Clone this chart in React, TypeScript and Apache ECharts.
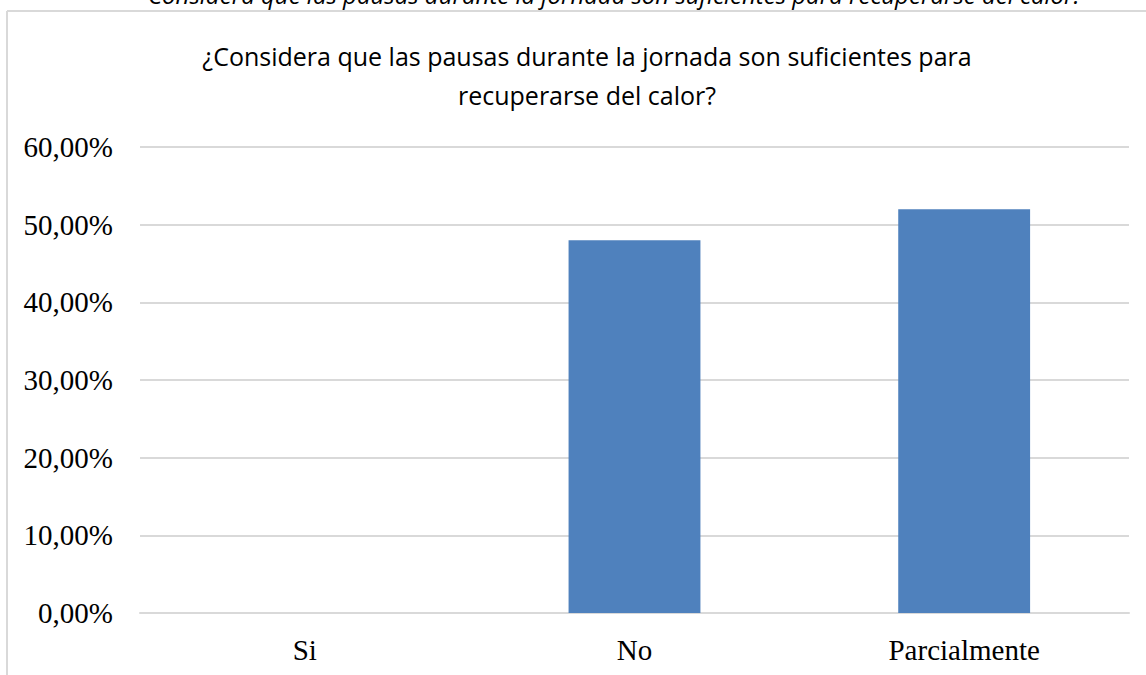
import React, { useEffect, useRef } from "react";
import * as echarts from "echarts";

const categories = ["Si", "No", "Parcialmente"];
const values = [0, 48, 52];
const yTicks = { min: 0, max: 60, interval: 10 };
const titleLines = [
  "¿Considera que las pausas durante la jornada son suficientes para",
  "recuperarse del calor?",
];
const captionText =
  "Considera que las pausas durante la jornada son suficientes para recuperarse del calor.";

const SANS = "'Open Sans', sans-serif";
const SERIF = "'Liberation Serif', 'Times New Roman', serif";

export default function App() {
  const ref = useRef<HTMLDivElement>(null);
  useEffect(() => {
    if (!ref.current) return;
    const chart = echarts.init(ref.current, null, { renderer: "svg" });
    chart.setOption({
      animation: false,
      backgroundColor: "#ffffff",
      grid: { left: 140, right: 17, top: 147, bottom: 62, containLabel: false },
      title: {
        text: titleLines.join("\n"),
        left: 582,
        top: 31,
        textAlign: "center",
        textStyle: {
          fontFamily: SANS,
          fontSize: 25,
          fontWeight: "normal",
          color: "#000000",
          lineHeight: 39,
        },
      },
      xAxis: {
        type: "category",
        data: categories,
        axisTick: { show: false },
        axisLine: { show: true, lineStyle: { color: "#d9d9d9", width: 2 } },
        axisLabel: {
          margin: 22,
          fontFamily: SERIF,
          fontSize: 29,
          color: "#000000",
        },
      },
      yAxis: {
        type: "value",
        min: yTicks.min,
        max: yTicks.max,
        interval: yTicks.interval,
        axisLine: { show: false },
        axisTick: { show: false },
        splitLine: { lineStyle: { color: "#d9d9d9", width: 2 } },
        axisLabel: {
          margin: 27,
          fontFamily: SERIF,
          fontSize: 29,
          color: "#000000",
          formatter: (v: number) => v.toFixed(2).replace(".", ",") + "%",
        },
      },
      series: [
        {
          type: "bar",
          data: values,
          barWidth: "40%",
          itemStyle: { color: "#4f81bd" },
        },
      ],
      graphic: [
        {
          type: "text",
          left: 148,
          top: -18,
          style: {
            text: captionText,
            font: "italic 24px " + SANS,
            fill: "#000000",
          },
        },
        {
          type: "line",
          shape: { x1: 7, y1: 11, x2: 1146, y2: 11 },
          style: { stroke: "#d9d9d9", lineWidth: 2 },
        },
        {
          type: "line",
          shape: { x1: 7, y1: 11, x2: 7, y2: 675 },
          style: { stroke: "#d9d9d9", lineWidth: 2 },
        },
      ],
    });
    return () => chart.dispose();
  }, []);
  return (
    <div
      ref={ref}
      style={{ position: "fixed", left: 0, top: 0, width: 1146, height: 675 }}
    />
  );
}
